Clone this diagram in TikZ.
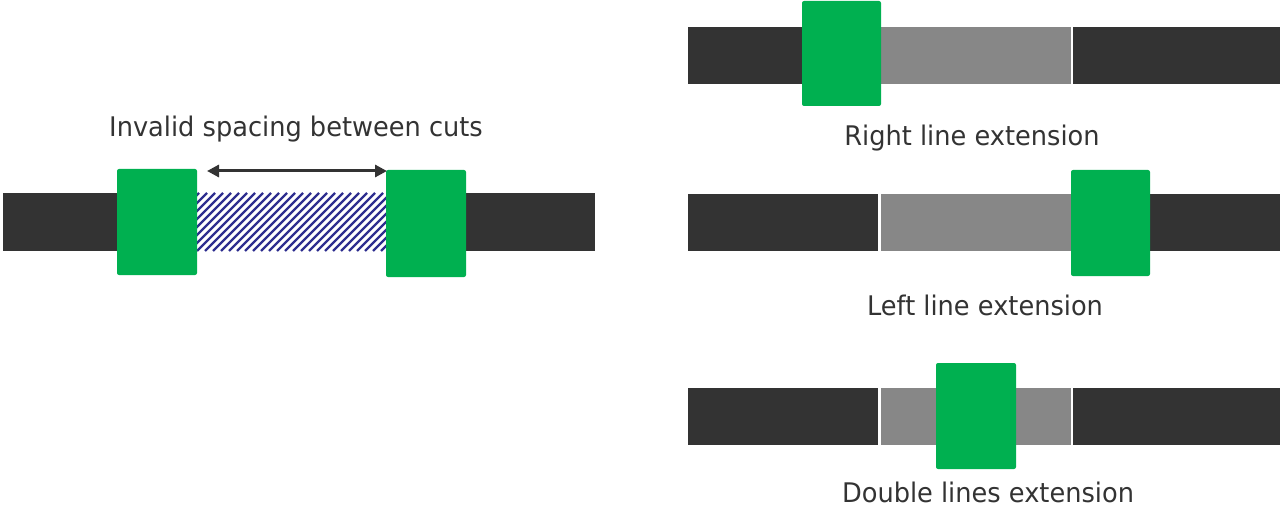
\documentclass[tikz,border=0pt]{standalone}
\usepackage{fontspec}
\setmainfont{DejaVu Sans}
\usetikzlibrary{arrows.meta}
\definecolor{cutgreen}{HTML}{00B050}
\definecolor{bardark}{HTML}{333333}
\definecolor{bargray}{HTML}{878787}
\definecolor{hatchblue}{HTML}{2E2E8F}
\definecolor{txt}{HTML}{333333}
\newcommand{\narrowtext}[1]{\scalebox{0.95}[1]{#1}}
\tikzset{
  blk/.style={inner sep=0pt, outer sep=0pt, draw=none},
  darkbar/.style={blk, fill=bardark},
  graybar/.style={blk, fill=bargray},
  cut/.style={blk, fill=cutgreen, rounded corners=2pt},
  lbl/.style={inner sep=0pt, anchor=base, text=txt, font=\fontsize{27}{31}\selectfont},
  dimarrow/.style={draw=bardark, line width=3pt, {Triangle[length=12pt,width=12pt]}-{Triangle[length=12pt,width=12pt]}}
}
\begin{document}
\begin{tikzpicture}[x=1pt,y=-1pt]
\useasboundingbox (0,0) rectangle (1282,505);
% ---------- left figure ----------
\node[darkbar, minimum width=114pt, minimum height=58pt] (lda) at (60,222) {};
\node[darkbar, minimum width=129pt, minimum height=58pt] (ldb) at (530.5,222) {};
\node[blk, minimum width=189pt, minimum height=58pt] (hatch) at (291.5,222) {};
\begin{scope}
  \clip (hatch.south west) rectangle (hatch.north east);
  \foreach \k in {0,...,34} {
    \draw[hatchblue, line width=2.2pt] ({133+8*\k},251) -- ({133+8*\k+58},193);
  }
\end{scope}
\node[cut, minimum width=80pt, minimum height=106pt] (g1) at (157,222) {};
\node[cut, minimum width=80pt, minimum height=107pt] (g2) at (426,223.5) {};
\coordinate (arrA) at (207,171);
\coordinate (arrB) at (387,171);
\draw[dimarrow] (arrA) -- (arrB);
\node[lbl] (t0) at (296,137) {\narrowtext{Invalid spacing between cuts}};
% ---------- right line extension ----------
\node[darkbar, minimum width=130pt, minimum height=57pt] (r1a) at (753,55.5) {};
\node[graybar, minimum width=190pt, minimum height=57pt] (r1g) at (976,55.5) {};
\node[darkbar, minimum width=207pt, minimum height=57pt] (r1b) at (1176.5,55.5) {};
\node[cut, minimum width=79pt, minimum height=105pt] (r1c) at (841.5,53.5) {};
\node[lbl] (t1) at (972,146) {\narrowtext{Right line extension}};
% ---------- left line extension ----------
\node[darkbar, minimum width=190pt, minimum height=57pt] (r2a) at (783,222.5) {};
\node[graybar, minimum width=190pt, minimum height=57pt] (r2g) at (976,222.5) {};
\node[darkbar, minimum width=140pt, minimum height=57pt] (r2b) at (1210,222.5) {};
\node[cut, minimum width=79pt, minimum height=106pt] (r2c) at (1110.5,223) {};
\node[lbl] (t2) at (985,315) {\narrowtext{Left line extension}};
% ---------- double lines extension ----------
\node[darkbar, minimum width=190pt, minimum height=57pt] (r3a) at (783,416.5) {};
\node[graybar, minimum width=190pt, minimum height=57pt] (r3g) at (976,416.5) {};
\node[darkbar, minimum width=207pt, minimum height=57pt] (r3b) at (1176.5,416.5) {};
\node[cut, minimum width=80pt, minimum height=106pt] (r3c) at (976,416) {};
\node[lbl] (t3) at (988,502.5) {\narrowtext{Double lines extension}};
\end{tikzpicture}
\end{document}
